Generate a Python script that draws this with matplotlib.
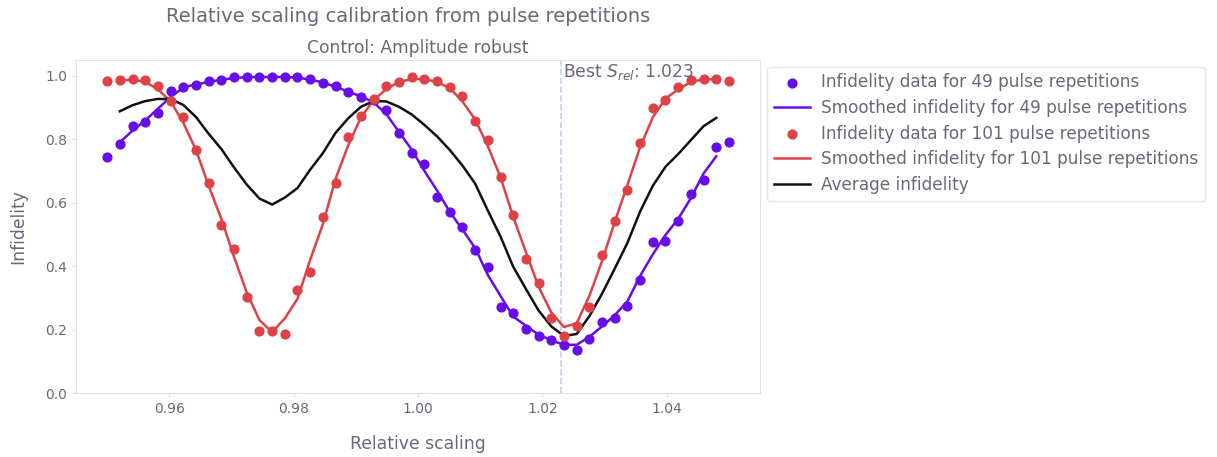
import numpy as np
import matplotlib
matplotlib.use("Agg")
import matplotlib.pyplot as plt
import matplotlib.transforms as mtransforms

# relative scaling grid (50 evenly spaced points)
scaling = np.linspace(0.95, 1.05, 50)

infid_49 = [0.744, 0.786, 0.840, 0.854, 0.882, 0.951, 0.966, 0.972, 0.982, 0.985,
            0.996, 0.996, 0.996, 0.996, 0.996, 0.996, 0.991, 0.977, 0.968, 0.949,
            0.933, 0.924, 0.891, 0.821, 0.758, 0.723, 0.618, 0.572, 0.523, 0.450,
            0.397, 0.270, 0.252, 0.202, 0.181, 0.168, 0.150, 0.137, 0.170, 0.225,
            0.236, 0.275, 0.357, 0.475, 0.478, 0.541, 0.628, 0.672, 0.775, 0.790]

infid_101 = [0.982, 0.985, 0.991, 0.985, 0.968, 0.919, 0.870, 0.767, 0.662, 0.530,
             0.454, 0.303, 0.194, 0.194, 0.187, 0.324, 0.380, 0.555, 0.662, 0.807,
             0.874, 0.926, 0.968, 0.979, 0.996, 0.991, 0.982, 0.966, 0.935, 0.856,
             0.796, 0.681, 0.562, 0.423, 0.347, 0.235, 0.180, 0.210, 0.271, 0.436,
             0.541, 0.640, 0.788, 0.898, 0.922, 0.964, 0.985, 0.991, 0.991, 0.982]

# smoothed curves, defined on scaling[1:-1]
smooth_49 = [0.790, 0.827, 0.859, 0.896, 0.933, 0.963, 0.973, 0.980, 0.988, 0.992,
             0.996, 0.996, 0.996, 0.996, 0.994, 0.988, 0.979, 0.965, 0.950, 0.935,
             0.916, 0.879, 0.823, 0.767, 0.700, 0.638, 0.571, 0.515, 0.457, 0.372,
             0.306, 0.241, 0.212, 0.184, 0.166, 0.152, 0.152, 0.177, 0.210, 0.245,
             0.289, 0.369, 0.437, 0.498, 0.549, 0.614, 0.692, 0.746]

smooth_101 = [0.986, 0.987, 0.981, 0.957, 0.919, 0.852, 0.766, 0.653, 0.549, 0.429,
              0.317, 0.230, 0.192, 0.235, 0.297, 0.420, 0.532, 0.675, 0.781, 0.869,
              0.923, 0.958, 0.981, 0.989, 0.990, 0.980, 0.961, 0.919, 0.862, 0.778,
              0.680, 0.555, 0.444, 0.335, 0.254, 0.208, 0.220, 0.306, 0.416, 0.539,
              0.656, 0.775, 0.869, 0.928, 0.957, 0.980, 0.989, 0.988]

average = [0.888, 0.907, 0.920, 0.927, 0.926, 0.908, 0.870, 0.817, 0.769, 0.711,
           0.657, 0.613, 0.594, 0.616, 0.646, 0.704, 0.756, 0.820, 0.866, 0.902,
           0.920, 0.919, 0.902, 0.878, 0.845, 0.809, 0.766, 0.717, 0.660, 0.575,
           0.493, 0.398, 0.328, 0.260, 0.210, 0.180, 0.186, 0.242, 0.313, 0.392,
           0.473, 0.572, 0.653, 0.713, 0.753, 0.797, 0.841, 0.867]

best_scaling = 1.023

purple = "#680CE9"
red = "#DE4246"
text_col = "#6f6579"
frame_col = "#dde4ee"

plt.rcParams["font.family"] = "DejaVu Sans"
plt.rcParams["text.color"] = text_col
plt.rcParams["axes.labelcolor"] = text_col
plt.rcParams["xtick.color"] = frame_col
plt.rcParams["ytick.color"] = frame_col
plt.rcParams["xtick.labelcolor"] = text_col
plt.rcParams["ytick.labelcolor"] = text_col

fig = plt.figure(figsize=(12.17, 4.57), dpi=100)
ax = fig.add_axes([0.0625, 0.140, 0.562, 0.729])

x_in = scaling[1:-1]
ax.scatter(scaling, infid_49, s=40, color=purple, zorder=3,
           label="Infidelity data for 49 pulse repetitions")
ax.plot(x_in, smooth_49, color=purple, lw=1.8,
        label="Smoothed infidelity for 49 pulse repetitions")
ax.scatter(scaling, infid_101, s=40, color=red, zorder=3,
           label="Infidelity data for 101 pulse repetitions")
ax.plot(x_in, smooth_101, color=red, lw=1.8,
        label="Smoothed infidelity for 101 pulse repetitions")
ax.plot(x_in, average, color="#111111", lw=1.8, label="Average infidelity")

ax.axvline(best_scaling, color="#c5d2e4", ls="--", lw=1.2, zorder=1)
trans = mtransforms.blended_transform_factory(ax.transData, ax.transAxes)
ax.text(best_scaling + 0.0003, 0.995, r"Best $S_{rel}$: %.3f" % best_scaling,
        transform=trans, ha="left", va="top", fontsize=12.3)

ax.set_xlim(0.945, 1.055)
ax.set_ylim(0, 1.05)
ax.set_xticks([0.96, 0.98, 1.00, 1.02, 1.04])
ax.set_yticks([0.0, 0.2, 0.4, 0.6, 0.8, 1.0])
ax.tick_params(labelsize=10, length=3)
for s in ax.spines.values():
    s.set_color(frame_col)

ax.set_xlabel("Relative scaling", fontsize=12.4, labelpad=14)
ax.set_ylabel("Infidelity", fontsize=12.4, labelpad=13)
ax.set_title("Control: Amplitude robust", fontsize=12.3, pad=5)
fig.suptitle("Relative scaling calibration from pulse repetitions",
             fontsize=14, x=0.335, y=0.985)

leg = ax.legend(loc="upper left", bbox_to_anchor=(1.0, 1.0), fontsize=12.2,
                frameon=True, handlelength=2.15, handletextpad=0.65,
                borderpad=0.4, labelspacing=0.45, borderaxespad=0.4)
leg.get_frame().set_edgecolor(frame_col)
for t in leg.get_texts():
    t.set_color(text_col)

fig.savefig("out.png", dpi=100)
